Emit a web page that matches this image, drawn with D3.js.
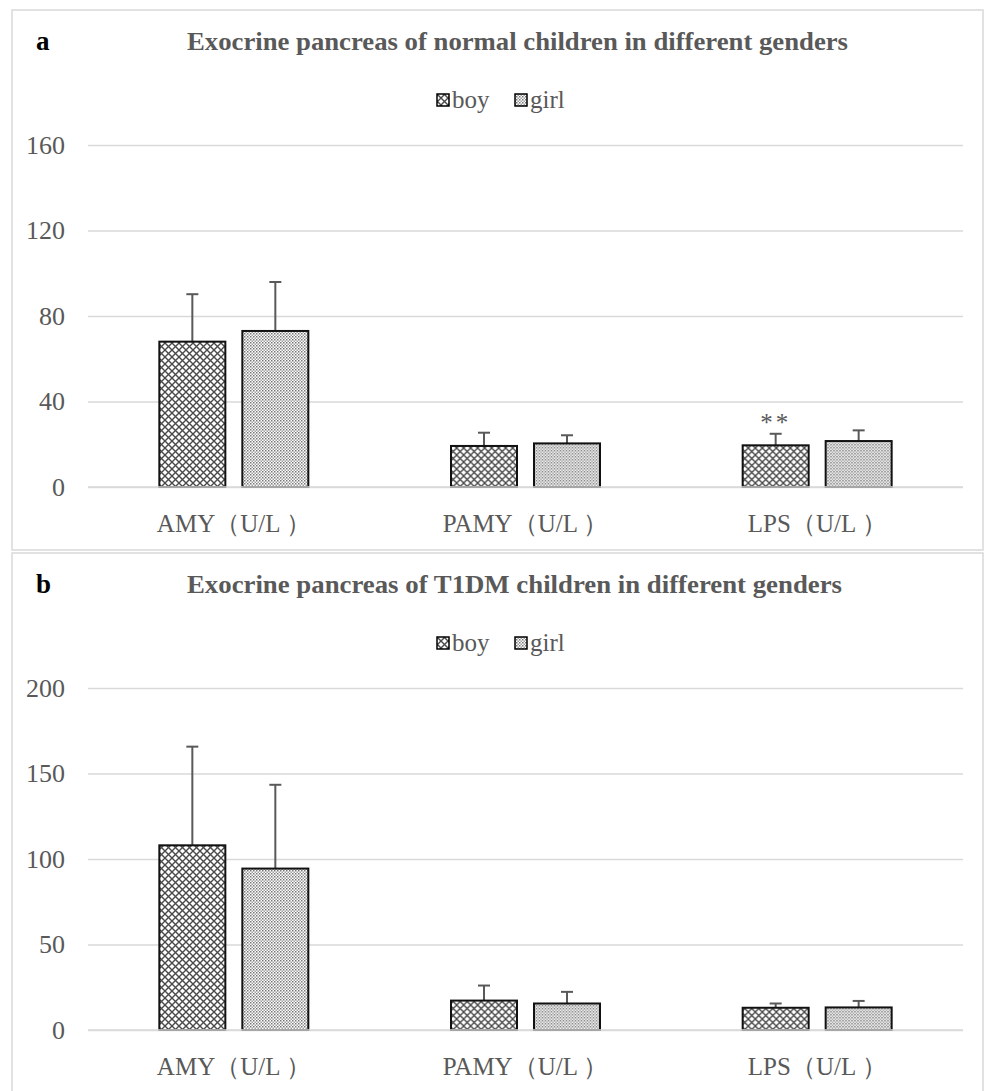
<!DOCTYPE html>
<html><head><meta charset="utf-8">
<script src="https://cdn.jsdelivr.net/npm/d3@7"></script>
<style>html,body{margin:0;padding:0;background:#fff;}</style>
</head><body>
<svg id="chart" width="984" height="1091"></svg>
<script>
// ---- data ----
const categories = ["AMY（U/L ）", "PAMY（U/L ）", "LPS（U/L ）"];
const seriesNames = ["boy", "girl"];
const normalBoy = [68.0, 19.2, 19.5];
const normalBoySD = [22.2, 6.2, 5.4];
const normalGirl = [73.0, 20.4, 21.5];
const normalGirlSD = [22.9, 3.8, 5.0];
const normalBoyMarks = ["", "", "**"];
const normalTicks = [0, 40, 80, 120, 160];
const t1dmBoy = [108, 17.2, 13.0];
const t1dmBoySD = [57.7, 8.8, 2.5];
const t1dmGirl = [94.4, 15.5, 13.2];
const t1dmGirlSD = [49.0, 6.8, 3.8];
const t1dmTicks = [0, 50, 100, 150, 200];
const titleA = "Exocrine pancreas of normal children in different genders";
const titleB = "Exocrine pancreas of T1DM children in different genders";

const svg = d3.select("#chart");
const defs = svg.append("defs");
// cross-hatch pattern for boy
const pb = defs.append("pattern").attr("id", "pat-boy").attr("patternUnits", "userSpaceOnUse")
  .attr("width", 7).attr("height", 7);
pb.append("rect").attr("width", 7).attr("height", 7).attr("fill", "#fff");
pb.append("path").attr("d", "M0,0L7,7M7,0L0,7").attr("stroke", "#4a4a4a").attr("stroke-width", 1.4);
// fine dot pattern for girl
const pg = defs.append("pattern").attr("id", "pat-girl").attr("patternUnits", "userSpaceOnUse")
  .attr("width", 3).attr("height", 3);
pg.append("rect").attr("width", 3).attr("height", 3).attr("fill", "#fff");
pg.append("rect").attr("x", 0).attr("y", 0).attr("width", 1.5).attr("height", 1.5).attr("fill", "#777");
pg.append("rect").attr("x", 1.5).attr("y", 1.5).attr("width", 1.5).attr("height", 1.5).attr("fill", "#a0a0a0");
const fills = {boy: "url(#pat-boy)", girl: "url(#pat-girl)"};

const serif = "'Liberation Serif','Times New Roman',serif";
const grey = "#595959";

function drawPanel(cfg) {
  const g = svg.append("g").attr("transform", `translate(0,${cfg.offset})`);
  // border
  g.append("rect").attr("x", 12).attr("y", 10).attr("width", 971).attr("height", 540)
    .attr("fill", "none").attr("stroke", "#d9d9d9").attr("stroke-width", 1.5);
  // panel letter
  g.append("text").attr("x", 36).attr("y", 50).text(cfg.letter)
    .attr("font-family", serif).attr("font-weight", "bold").attr("font-size", 27).attr("fill", "#000");
  // title
  g.append("text").attr("x", 187).attr("y", 50).text(cfg.title)
    .attr("textLength", cfg.titleLen).attr("lengthAdjust", "spacingAndGlyphs")
    .attr("font-family", serif).attr("font-weight", "bold").attr("font-size", 26).attr("fill", grey);
  // legend
  const legX = [437, 515];
  seriesNames.forEach((s, i) => {
    g.append("rect").attr("x", legX[i]).attr("y", 94).attr("width", 12).attr("height", 12)
      .attr("fill", fills[s]).attr("stroke", "#000").attr("stroke-width", 1.5);
    g.append("text").attr("x", legX[i] + 15).attr("y", 108).text(s)
      .attr("font-family", serif).attr("font-size", 25).attr("fill", grey);
  });

  const left = 88, right = 963, top = 145, bottom = 487;
  const y = d3.scaleLinear().domain([0, cfg.ticks[cfg.ticks.length - 1]]).range([bottom, top]);
  const x0 = d3.scaleBand().domain(categories).range([left, right]).padding(0);
  const groupW = 149;
  const x1 = d3.scaleBand().domain(seriesNames)
    .range([(x0.bandwidth() - groupW) / 2, (x0.bandwidth() + groupW) / 2]).paddingInner(17 / 83).paddingOuter(0);

  // gridlines + y axis
  const yAxis = d3.axisLeft(y).tickValues(cfg.ticks).tickSize(-(right - left)).tickPadding(23);
  const ga = g.append("g").attr("transform", `translate(${left},0)`).call(yAxis);
  ga.select(".domain").remove();
  ga.selectAll(".tick line").attr("stroke", "#d9d9d9").attr("stroke-width", 1.5);
  ga.selectAll(".tick text").attr("font-family", serif).attr("font-size", 26).attr("fill", grey);

  const data = categories.map((c, i) => ({
    cat: c,
    vals: seriesNames.map(s => ({s, v: cfg.values[s][i], sd: cfg.sd[s][i], mark: (cfg.marks[s] || [])[i] || ""}))
  }));

  const groups = g.selectAll(".grp").data(data).join("g")
    .attr("transform", d => `translate(${x0(d.cat)},0)`);
  groups.selectAll(".err").data(d => d.vals).join("line")
    .attr("x1", d => x1(d.s) + x1.bandwidth() / 2).attr("x2", d => x1(d.s) + x1.bandwidth() / 2)
    .attr("y1", d => y(d.v)).attr("y2", d => y(d.v + d.sd))
    .attr("stroke", grey).attr("stroke-width", 2);
  groups.selectAll(".cap").data(d => d.vals).join("line")
    .attr("x1", d => x1(d.s) + x1.bandwidth() / 2 - 6).attr("x2", d => x1(d.s) + x1.bandwidth() / 2 + 6)
    .attr("y1", d => y(d.v + d.sd)).attr("y2", d => y(d.v + d.sd))
    .attr("stroke", grey).attr("stroke-width", 2);
  groups.selectAll(".bar").data(d => d.vals).join("rect")
    .attr("x", d => x1(d.s)).attr("width", x1.bandwidth())
    .attr("y", d => y(d.v)).attr("height", d => y(0) - y(d.v))
    .attr("fill", d => fills[d.s]).attr("stroke", "#111").attr("stroke-width", 2);
  groups.selectAll(".mark").data(d => d.vals.filter(v => v.mark)).join("text")
    .attr("x", d => x1(d.s) + x1.bandwidth() / 2).attr("y", d => y(d.v + d.sd) - 3)
    .attr("text-anchor", "middle").text(d => d.mark).attr("letter-spacing", 3)
    .attr("font-family", serif).attr("font-size", 25).attr("fill", grey);

  // x axis baseline
  g.append("line").attr("x1", left).attr("x2", right).attr("y1", y(0)).attr("y2", y(0))
    .attr("stroke", "#d9d9d9").attr("stroke-width", 1.5);
  // category labels
  g.selectAll(".xl").data(categories).join("text")
    .attr("x", d => x0(d) + x0.bandwidth() / 2).attr("y", bottom + 45)
    .attr("text-anchor", "middle").text(d => d)
    .attr("font-family", serif).attr("font-size", 25).attr("fill", grey);
}

drawPanel({offset: 0, letter: "a", title: titleA, titleLen: 661,
  ticks: normalTicks,
  values: {boy: normalBoy, girl: normalGirl}, sd: {boy: normalBoySD, girl: normalGirlSD},
  marks: {boy: normalBoyMarks}});
drawPanel({offset: 543, letter: "b", title: titleB, titleLen: 655,
  ticks: t1dmTicks,
  values: {boy: t1dmBoy, girl: t1dmGirl}, sd: {boy: t1dmBoySD, girl: t1dmGirlSD},
  marks: {}});
</script>
</body></html>
